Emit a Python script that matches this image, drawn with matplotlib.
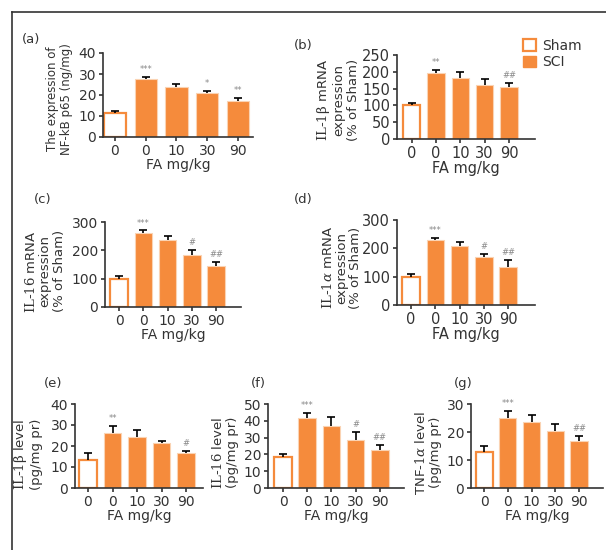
import numpy as np
import matplotlib
matplotlib.use("Agg")
import matplotlib.pyplot as plt
from matplotlib.patches import Patch
from matplotlib.lines import Line2D

plt.rcParams['font.family'] = ['DejaVu Sans']
plt.rcParams['mathtext.fontset'] = 'dejavuserif'
plt.rcParams['text.color'] = '#333333'
plt.rcParams['axes.labelcolor'] = '#333333'
plt.rcParams['xtick.color'] = '#333333'
plt.rcParams['ytick.color'] = '#333333'

# Data (Sham 0, SCI 0, 10, 30, 90 mg/kg FA)
tick_labels = ['0', '0', '10', '30', '90']

p65_mean = [11.5, 27.5, 24.0, 21.0, 17.0]
p65_err = [0.8, 1.3, 1.2, 1.1, 1.6]
p65_sig = ['', '***', '', '*', '**']

il1b_mrna_mean = [102, 195, 183, 160, 156]
il1b_mrna_err = [5, 10, 15, 19, 10]
il1b_mrna_sig = ['', '**', '', '', '##']

il16_mrna_mean = [100, 260, 238, 185, 146]
il16_mrna_err = [8, 10, 12, 16, 13]
il16_mrna_sig = ['', '***', '', '#', '##']

il1a_mrna_mean = [100, 228, 210, 170, 135]
il1a_mrna_err = [8, 10, 14, 10, 24]
il1a_mrna_sig = ['', '***', '', '#', '##']

il1b_level_mean = [13.5, 26.0, 24.5, 21.5, 16.5]
il1b_level_err = [3.0, 3.5, 3.0, 1.0, 1.3]
il1b_level_sig = ['', '**', '', '', '#']

il16_level_mean = [18.5, 41.5, 37.0, 28.5, 22.5]
il16_level_err = [2.0, 3.0, 5.0, 5.0, 3.0]
il16_level_sig = ['', '***', '', '#', '##']

tnf_level_mean = [13.0, 25.0, 23.5, 20.5, 16.7]
tnf_level_err = [2.0, 2.5, 2.5, 2.5, 2.0]
tnf_level_sig = ['', '***', '', '', '##']

ORANGE = '#F58B3C'
W, H = 606, 550

fig = plt.figure(figsize=(W / 100, H / 100), dpi=100)


def make_axes(left, right, y0, ytop):
    return fig.add_axes([left / W, 1 - y0 / H, (right - left) / W, (y0 - ytop) / H])


def bar_panel(ax, mean, err, sig, ymax, ystep, xlim, ylabel, label_x, label_y,
              label_size=9.5, tick_size=10):
    x = np.arange(len(mean))
    mean = np.asarray(mean)
    err = np.asarray(err)
    # Sham bar: open, SCI bars: filled
    ax.bar(x[0], mean[0], width=0.72, color='white', edgecolor=ORANGE, linewidth=1.6, zorder=2)
    ax.bar(x[1:], mean[1:], width=0.72, color=ORANGE, edgecolor='#FAD3B3', linewidth=0.8, zorder=2)
    # upper error bars only
    ax.vlines(x, mean, mean + err, color='black', linewidth=1.2, zorder=3)
    ax.plot(x, mean + err, linestyle='none', marker='_', markersize=6,
            markeredgewidth=1.2, color='black', zorder=3)
    for xi, m, e, s in zip(x, mean, err, sig):
        if s:
            ax.annotate(s, (xi, m + e), xytext=(0, 2), textcoords='offset points',
                        ha='center', va='bottom', fontsize=6, color='#888888')
    ax.set_xlim(*xlim)
    ax.set_ylim(0, ymax)
    ax.set_yticks(np.arange(0, ymax + 1e-9, ystep))
    ax.set_xticks(x)
    ax.set_xticklabels(tick_labels)
    ax.tick_params(labelsize=tick_size, length=3, width=1.2, pad=2)
    for side in ['top', 'right']:
        ax.spines[side].set_visible(False)
    for side in ['left', 'bottom']:
        ax.spines[side].set_linewidth(1.2)
        ax.spines[side].set_color('#333333')
    ax.set_xlabel('FA mg/kg', fontsize=tick_size, labelpad=0)
    ax.set_ylabel(ylabel, fontsize=label_size, linespacing=1.1)
    ax.yaxis.set_label_coords(label_x, label_y)


ax_a = make_axes(103, 253, 137, 53)
bar_panel(ax_a, p65_mean, p65_err, p65_sig, 40, 10, (-0.39, 4.49),
          'The expression of\nNF-kB p65 (ng/mg)', -0.2, 0.45, label_size=8.5, tick_size=10)

ax_b = make_axes(397, 535, 139, 55)
bar_panel(ax_b, il1b_mrna_mean, il1b_mrna_err, il1b_mrna_sig, 250, 50, (-0.6, 5.07),
          r'$\mathrm{IL}$-$\mathrm{1\beta}$ mRNA' + '\nexpression\n(% of Sham)', -0.27, 0.47,
          tick_size=10.5)

ax_c = make_axes(105, 241, 307, 222)
bar_panel(ax_c, il16_mrna_mean, il16_mrna_err, il16_mrna_sig, 300, 100, (-0.58, 5.03),
          r'$\mathrm{IL}$-$\mathrm{16}$ mRNA' + '\nexpression\n(% of Sham)', -0.29, 0.42)

ax_d = make_axes(397, 535, 305, 220)
bar_panel(ax_d, il1a_mrna_mean, il1a_mrna_err, il1a_mrna_sig, 300, 100, (-0.58, 5.11),
          r'$\mathrm{IL}$-$\mathrm{1}\alpha$ mRNA' + '\nexpression\n(% of Sham)', -0.25, 0.44,
          tick_size=10.5)

ax_e = make_axes(75, 203, 488, 404)
bar_panel(ax_e, il1b_level_mean, il1b_level_err, il1b_level_sig, 40, 10, (-0.53, 4.69),
          r'$\mathrm{IL}$-$\mathrm{1\beta}$ level' + '\n(pg/mg pr)', -0.25, 0.40)

ax_f = make_axes(268, 404, 488, 404)
bar_panel(ax_f, il16_level_mean, il16_level_err, il16_level_sig, 50, 10, (-0.62, 5.0),
          r'$\mathrm{IL}$-$\mathrm{16}$ level' + '\n(pg/mg pr)', -0.21, 0.42)

ax_g = make_axes(471, 603, 488, 404)
bar_panel(ax_g, tnf_level_mean, tnf_level_err, tnf_level_sig, 30, 10, (-0.55, 5.01),
          r'TNF-$\mathrm{1}\alpha$ level' + '\n(pg/mg pr)', -0.22, 0.42)

# Panel letters
for lbl, px, py in [('(a)', 31, 40), ('(b)', 303, 45), ('(c)', 43, 200), ('(d)', 303, 200),
                    ('(e)', 53, 383), ('(f)', 258, 383), ('(g)', 463, 383)]:
    fig.text(px / W, 1 - py / H, lbl, ha='center', va='center', fontsize=9.5)

# Legend
handles = [Patch(facecolor='white', edgecolor=ORANGE, linewidth=1.6, label='Sham'),
           Patch(facecolor=ORANGE, edgecolor=ORANGE, label='SCI')]
fig.legend(handles=handles, loc='upper left', bbox_to_anchor=(523 / W, 1 - 39 / H),
           frameon=False, fontsize=10, handlelength=0.9, handleheight=0.9,
           handletextpad=0.5, labelspacing=0.15, borderpad=0, borderaxespad=0)

# Frame lines (left and top)
fig.add_artist(Line2D([12 / W, 12 / W], [0, 1 - 12 / H], color='#333333', linewidth=1.2))
fig.add_artist(Line2D([12 / W, 1], [1 - 12 / H, 1 - 12 / H], color='#333333', linewidth=1.2))

fig.savefig('out.png', dpi=100)
